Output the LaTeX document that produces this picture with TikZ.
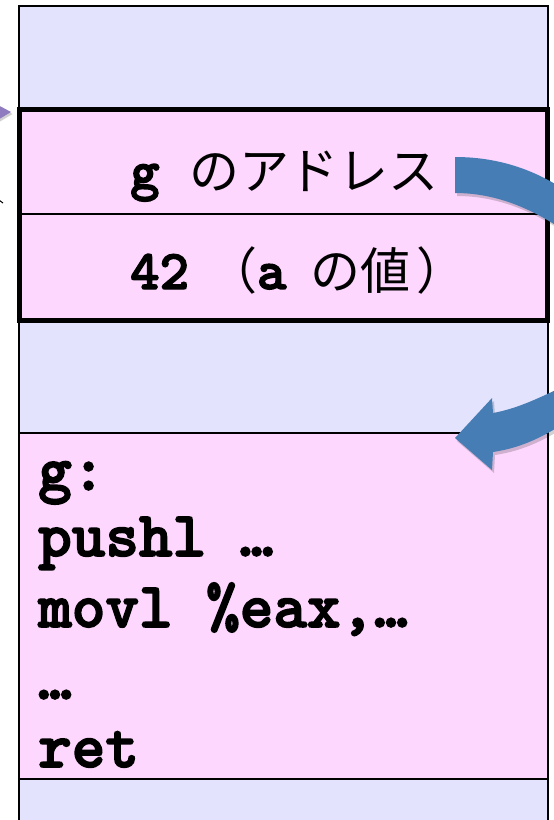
\documentclass[tikz,border=0pt]{standalone}
\usepackage{fontspec}
\newfontfamily\jp{Noto Sans CJK JP}
\newfontfamily\cour{lmmonolt10-bold.otf}[FakeBold=2.5]
\definecolor{lav}{HTML}{E3E3FD}
\definecolor{pinkc}{HTML}{FDD7FD}
\definecolor{arrowblue}{HTML}{467DB4}
\definecolor{purp}{HTML}{8F7CC0}
\newcommand{\mjp}[1]{{\jp #1}}
\begin{document}
\begin{tikzpicture}[x=1pt,y=-1pt,
  cell/.style={fill=pinkc,draw=black},
  lbl/.style={anchor=base west,inner sep=0pt,font=\cour\fontsize{56}{56}\selectfont},
  code/.style={anchor=base west,inner sep=0pt,font=\cour\fontsize{64}{64}\selectfont},
  blockarrow/.style={fill=arrowblue},
  shadowc/.style={fill=black,opacity=0.18}]
\useasboundingbox (0,0) rectangle (554,820);
\clip (0,0) rectangle (554,820);
% column
\draw[fill=lav,line width=1.5pt] (19,6) rectangle (548,840);
% frame with address and value
\draw[cell,line width=5pt] (19,109) rectangle (547,320);
\draw[line width=2pt] (21,214) -- (545,214);
% code box
\draw[cell,line width=2pt] (19,433) rectangle (548,779);
% texts
\node[lbl] (addr) at (130,189) {g \mjp{\fontsize{50}{50}\selectfont のアドレス}};
\node[lbl] (val) at (130,289) {42\hspace{18pt}\mjp{\fontsize{50}{50}\selectfont （}a\hspace{24pt}\mjp{\fontsize{50}{50}\selectfont の値\hspace{6pt}）}};
\node[code] (c1) at (38,490) {g:};
\node[code] (c2) at (38,556) {pushl …};
\node[code] (c3) at (38,627) {movl \%eax,…};
\node[code] (c4) at (38,699) {…};
\node[code] (c5) at (38,767) {ret};
% blue arrow 1 (off to the right)
\fill[shadowc,shift={(2,3)}] (455,157) .. controls (495,157) and (530,168) .. (560,187)
  -- (560,228) .. controls (530,208) and (495,193) .. (455,193) -- cycle;
\fill[blockarrow] (455,157) .. controls (495,157) and (530,168) .. (560,187)
  -- (560,228) .. controls (530,208) and (495,193) .. (455,193) -- cycle;
% blue arrow 2 (coming back)
\fill[shadowc,shift={(2,3)}] (560,388) .. controls (535,400) and (515,409) .. (493,413)
  -- (492,398) -- (455,438) -- (492,470) -- (493,452)
  .. controls (520,448) and (540,438) .. (560,426) -- cycle;
\fill[blockarrow] (560,388) .. controls (535,400) and (515,409) .. (493,413)
  -- (492,398) -- (455,438) -- (492,470) -- (493,452)
  .. controls (520,448) and (540,438) .. (560,426) -- cycle;
% purple arrow tip at left edge
\fill[shadowc,shift={(1.5,2)}] (-4,104) -- (11,112) -- (-4,121) -- cycle;
\fill[purp] (-4,104) -- (11,112) -- (-4,121) -- cycle;
% small black tick at left edge
\coordinate (t1) at (-1,200);
\coordinate (t2) at (3,203);
\draw[line width=1pt] (t1) -- (t2);
\end{tikzpicture}
\end{document}
